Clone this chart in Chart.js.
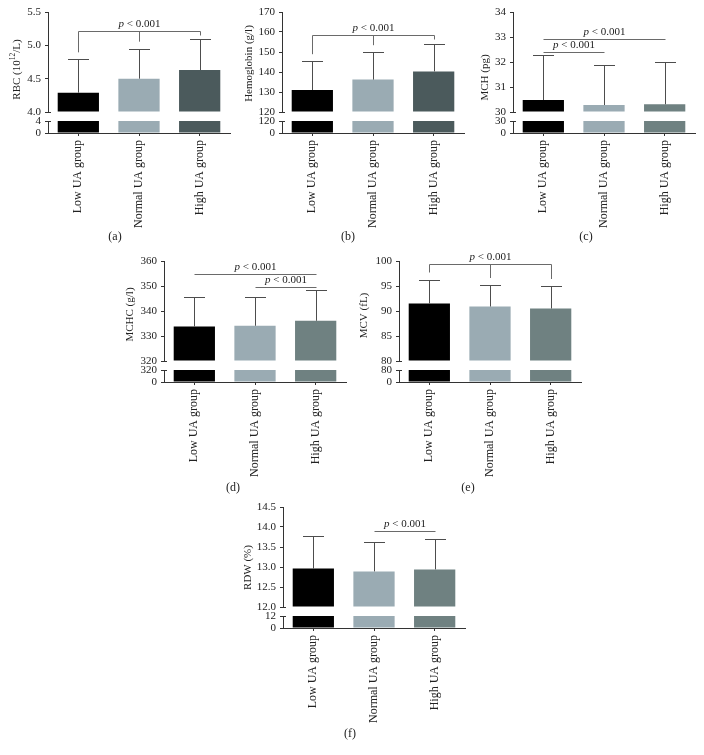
<!DOCTYPE html>
<html>
<head>
<meta charset="utf-8">
<script src="https://cdn.jsdelivr.net/npm/chart.js@4.4.1/dist/chart.umd.min.js"></script>
<style>
  html, body { margin: 0; padding: 0; background: #fff; }
  #page { position: relative; width: 704px; height: 755px; overflow: hidden; }
  #page canvas { position: absolute; }
  .cap { position: absolute; font: 12px "Liberation Serif", serif; color: #222; transform: translate(-50%, -50%); white-space: nowrap; }
</style>
</head>
<body>
<div id="page"></div>
<script>
// x categories
var groups = ['Low UA group', 'Normal UA group', 'High UA group'];

// mean and SD of each group
var rbcMean = [4.29, 4.50, 4.63];
var rbcSd = [0.50, 0.45, 0.47];
var hgbMean = [131.0, 136.2, 140.3];
var hgbSd = [14.4, 13.7, 13.9];
var mchMean = [30.48, 30.28, 30.31];
var mchSd = [1.80, 1.59, 1.70];
var mchcMean = [333.8, 334.1, 336.1];
var mchcSd = [11.9, 11.6, 12.3];
var mcvMean = [91.5, 90.9, 90.5];
var mcvSd = [4.8, 4.3, 4.5];
var rdwMean = [12.96, 12.89, 12.94];
var rdwSd = [0.82, 0.73, 0.75];

// upper segment [min, max, step] and lower segment [0, break]
var rbcTicks = [4.0, 5.5, 0.5], rbcLow = [0, 4];
var hgbTicks = [120, 170, 10], hgbLow = [0, 120];
var mchTicks = [30, 34, 1], mchLow = [0, 30];
var mchcTicks = [320, 360, 10], mchcLow = [0, 320];
var mcvTicks = [80, 100, 5], mcvLow = [0, 80];
var rdwTicks = [12.0, 14.5, 0.5], rdwLow = [0, 12];

// significance lines: [from group, to group, level]
var rbcSig = [[0, 2, 5.215]];
var hgbSig = [[0, 2, 158.6]];
var mchSig = [[0, 1, 32.41], [0, 2, 32.92]];
var mchcSig = [[0, 2, 354.7], [1, 2, 349.7]];
var mcvSig = [[0, 2, 99.34]];
var rdwSig = [[1, 2, 13.9]];
var pText = ['p', ' < 0.001'];

// axis titles, second item marks superscript
var rbcTitle = [['RBC (10', 0], ['12', 1], ['/L)', 0]];
var hgbTitle = [['Hemoglobin (g/l)', 0]];
var mchTitle = [['MCH (pg)', 0]];
var mchcTitle = [['MCHC (g/l)', 0]];
var mcvTitle = [['MCV (fL)', 0]];
var rdwTitle = [['RDW (%)', 0]];

var SERIF = '"Liberation Serif", "Times New Roman", serif';
var page = document.getElementById('page');

var panels = [
  { cap: '(a)', capXY: [115, 236], axisX: 48, topY: 12, mean: rbcMean, sd: rbcSd, ticks: rbcTicks, low: rbcLow, sig: rbcSig, drops: true, title: rbcTitle, tdx: -31, tdy: -3, high: '#4b5a5c' },
  { cap: '(b)', capXY: [348, 236], axisX: 282, topY: 12, mean: hgbMean, sd: hgbSd, ticks: hgbTicks, low: hgbLow, sig: hgbSig, drops: true, title: hgbTitle, tdx: -33, tdy: -9, high: '#4b5a5c' },
  { cap: '(c)', capXY: [586, 236], axisX: 513, topY: 12, mean: mchMean, sd: mchSd, ticks: mchTicks, low: mchLow, sig: mchSig, drops: false, title: mchTitle, tdx: -28, tdy: 5, high: '#6f8181' },
  { cap: '(d)', capXY: [233, 487], axisX: 164, topY: 261, mean: mchcMean, sd: mchcSd, ticks: mchcTicks, low: mchcLow, sig: mchcSig, drops: false, title: mchcTitle, tdx: -34, tdy: -7, high: '#6f8181' },
  { cap: '(e)', capXY: [468, 487], axisX: 399, topY: 261, mean: mcvMean, sd: mcvSd, ticks: mcvTicks, low: mcvLow, sig: mcvSig, drops: true, title: mcvTitle, tdx: -35, tdy: -6, high: '#6f8181' },
  { cap: '(f)', capXY: [350, 733], axisX: 283, topY: 507, mean: rdwMean, sd: rdwSd, ticks: rdwTicks, low: rdwLow, sig: rdwSig, drops: false, title: rdwTitle, tdx: -35, tdy: 0, high: '#6f8181' }
];

function drawP(ctx, cx, cy) {
  var it = 'italic 11px ' + SERIF, rg = '11px ' + SERIF;
  ctx.font = it;
  var w1 = ctx.measureText(pText[0]).width;
  ctx.font = rg;
  var w2 = ctx.measureText(pText[1]).width;
  var x0 = cx - (w1 + w2) / 2;
  ctx.fillStyle = '#222';
  ctx.textAlign = 'left';
  ctx.textBaseline = 'middle';
  ctx.font = it;
  ctx.fillText(pText[0], x0, cy);
  ctx.font = rg;
  ctx.fillText(pText[1], x0 + w1, cy);
}

function drawTitle(ctx, segs, tx, ty) {
  ctx.save();
  ctx.translate(tx, ty);
  ctx.rotate(-Math.PI / 2);
  ctx.fillStyle = '#222';
  ctx.textAlign = 'left';
  ctx.textBaseline = 'middle';
  var total = 0;
  segs.forEach(function (s) {
    ctx.font = (s[1] ? '7.5px ' : '11px ') + SERIF;
    total += ctx.measureText(s[0]).width;
  });
  var xx = -total / 2;
  segs.forEach(function (s) {
    ctx.font = (s[1] ? '7.5px ' : '11px ') + SERIF;
    ctx.fillText(s[0], xx, s[1] ? -4 : 0);
    xx += ctx.measureText(s[0]).width;
  });
  ctx.restore();
}

function makePanel(p) {
  var cv = document.createElement('canvas');
  cv.width = 237;
  cv.height = 245;
  cv.style.left = (p.axisX - 47) + 'px';
  cv.style.top = (p.topY - 11) + 'px';
  page.appendChild(cv);

  var cap = document.createElement('div');
  cap.className = 'cap';
  cap.textContent = p.cap;
  cap.style.left = p.capXY[0] + 'px';
  cap.style.top = p.capXY[1] + 'px';
  page.appendChild(cap);

  var colors = ['#000000', '#9aabb3', p.high];
  var axisCol = '#333';
  var tickFont = { family: SERIF, size: 11 };

  var overlay = {
    id: 'overlay',
    afterDatasetsDraw: function (chart) {
      var ctx = chart.ctx, x = chart.scales.x, yt = chart.scales.yTop, yl = chart.scales.yLow;
      var left = chart.chartArea.left;
      ctx.save();
      // error bars
      ctx.lineWidth = 1;
      ctx.strokeStyle = '#4d4d4d';
      p.mean.forEach(function (m, i) {
        var cx = Math.round(x.getPixelForValue(i)) + 0.5;
        var y0 = yt.getPixelForValue(m);
        var y1 = Math.round(yt.getPixelForValue(m + p.sd[i])) + 0.5;
        ctx.beginPath();
        ctx.moveTo(cx, y0);
        ctx.lineTo(cx, y1);
        ctx.moveTo(cx - 10.5, y1);
        ctx.lineTo(cx + 10.5, y1);
        ctx.stroke();
      });
      // significance lines
      ctx.strokeStyle = '#6a6a6a';
      p.sig.forEach(function (s) {
        var xa = Math.round(x.getPixelForValue(s[0])) + 0.5;
        var xb = Math.round(x.getPixelForValue(s[1])) + 0.5;
        var ly = Math.round(yt.getPixelForValue(s[2])) + 0.5;
        ctx.beginPath();
        ctx.moveTo(xa, ly);
        ctx.lineTo(xb, ly);
        if (p.drops) {
          for (var i = s[0]; i <= s[1]; i++) {
            var xi = Math.round(x.getPixelForValue(i)) + 0.5;
            var ye = Math.max(yt.getPixelForValue(p.mean[i] + p.sd[i]) - 7, ly + 4);
            ctx.moveTo(xi, ly);
            ctx.lineTo(xi, ye);
          }
        }
        ctx.stroke();
        drawP(ctx, (xa + xb) / 2, ly - 7.5);
      });
      // break stubs on the right of the axis
      ctx.strokeStyle = axisCol;
      ctx.beginPath();
      var b1 = Math.round(yt.bottom) + 0.5, b2 = Math.round(yl.top) + 0.5;
      ctx.moveTo(left, b1); ctx.lineTo(left + 3, b1);
      ctx.moveTo(left, b2); ctx.lineTo(left + 3, b2);
      ctx.stroke();
      drawTitle(ctx, p.title, left + p.tdx, (chart.chartArea.top + chart.chartArea.bottom) / 2 + p.tdy);
      ctx.restore();
    }
  };

  new Chart(cv, {
    type: 'bar',
    data: {
      labels: groups,
      datasets: [
        {
          data: p.mean,
          yAxisID: 'yTop',
          base: p.ticks[0],
          backgroundColor: colors,
          borderWidth: 0,
          grouped: false,
          barPercentage: 0.68,
          categoryPercentage: 1
        },
        {
          data: p.mean.map(function (v) { return Math.min(v, p.low[1]); }),
          yAxisID: 'yLow',
          backgroundColor: colors,
          borderWidth: 0,
          grouped: false,
          barPercentage: 0.68,
          categoryPercentage: 1
        }
      ]
    },
    options: {
      responsive: false,
      animation: false,
      devicePixelRatio: 1,
      layout: { padding: { left: 19, top: 11, right: 8, bottom: 0 } },
      plugins: { legend: { display: false }, tooltip: { enabled: false } },
      scales: {
        x: {
          type: 'category',
          position: 'bottom',
          offset: true,
          grid: { offset: false, drawOnChartArea: false, tickLength: 3, color: axisCol },
          border: { color: axisCol, width: 1 },
          ticks: { minRotation: 90, maxRotation: 90, autoSkip: false, padding: 4, color: '#222', font: { family: SERIF, size: 12 } },
          afterFit: function (s) { s.height = 113; }
        },
        yTop: {
          type: 'linear',
          position: 'left',
          stack: 'v',
          stackWeight: 100,
          weight: 3,
          min: p.ticks[0],
          max: p.ticks[1],
          ticks: { stepSize: p.ticks[2], padding: 4, color: '#222', font: tickFont },
          grid: { drawOnChartArea: false, tickLength: 3, color: axisCol },
          border: { color: axisCol, width: 1 },
          afterFit: function (s) { s.width = 28; }
        },
        yGap: {
          type: 'linear',
          position: 'left',
          stack: 'v',
          stackWeight: 9,
          weight: 2,
          display: false
        },
        yLow: {
          type: 'linear',
          position: 'left',
          stack: 'v',
          stackWeight: 12,
          weight: 1,
          min: p.low[0],
          max: p.low[1],
          ticks: { autoSkip: false, padding: 4, color: '#222', font: tickFont },
          grid: { drawOnChartArea: false, tickLength: 3, color: axisCol },
          border: { color: axisCol, width: 1 },
          afterBuildTicks: function (s) { s.ticks = [{ value: p.low[0] }, { value: p.low[1] }]; },
          afterFit: function (s) { s.width = 28; }
        }
      }
    },
    plugins: [overlay]
  });
}

panels.forEach(makePanel);
</script>
</body>
</html>
